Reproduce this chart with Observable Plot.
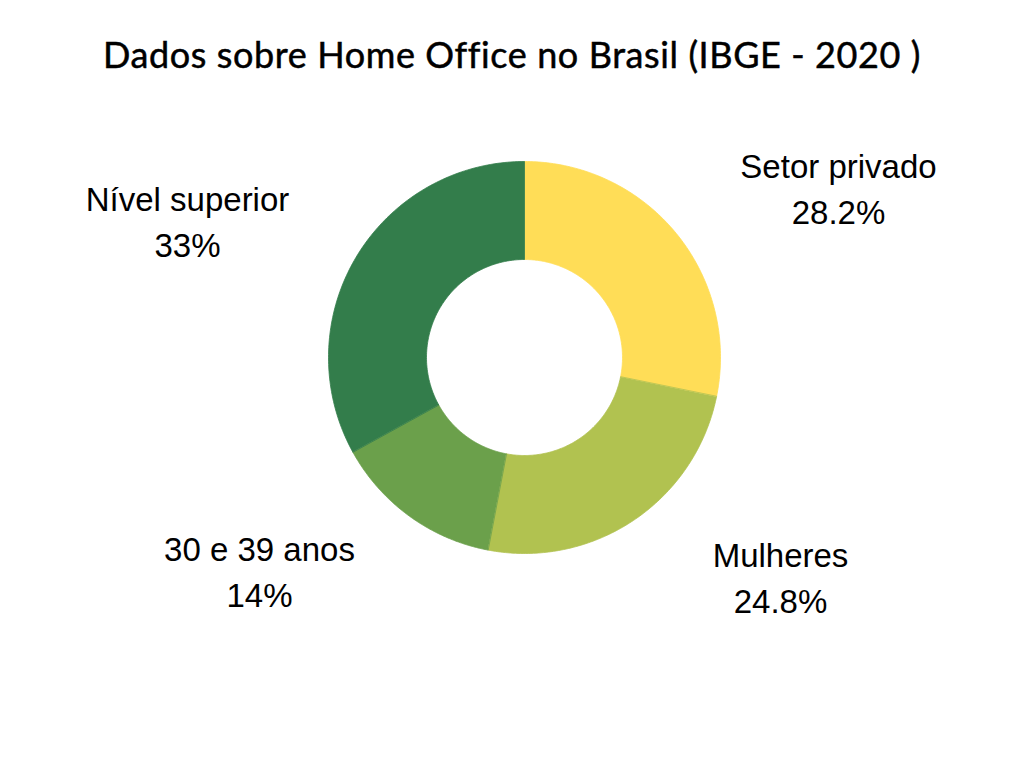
<!DOCTYPE html>
<html>
<head>
<meta charset="utf-8">
<script src="https://cdn.jsdelivr.net/npm/d3@7"></script>
<script src="https://cdn.jsdelivr.net/npm/@observablehq/plot@0.6"></script>
<style>
  html, body { margin: 0; padding: 0; background: #fff; }
  #wrap { width: 1024px; height: 768px; position: relative; overflow: hidden; }
  #title { height: 100px; line-height: 108px; text-align: center; font-family: "Lato", "Open Sans", sans-serif; font-size: 36px; font-weight: 400; color: #000; letter-spacing: 0.6px; -webkit-text-stroke: 0.5px #000; }
  #chart svg { display: block; }
</style>
</head>
<body>
<div id="wrap">
  <div id="title">Dados sobre Home Office no Brasil (IBGE - 2020 )</div>
  <div id="chart"></div>
</div>
<script>
// Data
const categories = ["Setor privado", "Mulheres", "30 e 39 anos", "Nível superior"];
const values = [28.2, 24.8, 14, 33];
const valueLabels = ["28.2%", "24.8%", "14%", "33%"];
const colors = ["#FFDD57", "#B1C250", "#6BA04B", "#337D4B"];

// Layout (pixel units relative to donut center)
const W = 1024, H = 668, CX = 524, CY = 257;
const R_OUT = 196, R_IN = 98;
const labelAnchors = [[314, -171], [256, 218], [-265, 212], [-337, -138]];

const arcs = d3.pie().sort(null).startAngle(0).endAngle(2 * Math.PI)(values);

const polys = [];
arcs.forEach((a, i) => {
  const n = 120;
  const pts = [];
  for (let k = 0; k <= n; k++) {
    const t = a.startAngle + (a.endAngle - a.startAngle) * k / n;
    pts.push([R_OUT * Math.sin(t), -R_OUT * Math.cos(t)]);
  }
  for (let k = n; k >= 0; k--) {
    const t = a.startAngle + (a.endAngle - a.startAngle) * k / n;
    pts.push([R_IN * Math.sin(t), -R_IN * Math.cos(t)]);
  }
  pts.forEach(([x, y], j) => polys.push({name: categories[i], x, y, order: j}));
});

const labels = categories.map((c, i) => ({
  text: c + "\n" + valueLabels[i],
  x: labelAnchors[i][0],
  y: labelAnchors[i][1]
}));

const plot = Plot.plot({
  width: W,
  height: H,
  margin: 0,
  x: {domain: [-CX, W - CX], range: [0, W], axis: null},
  y: {domain: [-CY, H - CY], range: [0, H], axis: null},
  color: {domain: categories, range: colors},
  marks: [
    Plot.line(polys, {x: "x", y: "y", z: "name", fill: "name", stroke: "name", strokeWidth: 0.8, curve: "linear-closed"}),
    Plot.text(labels, {x: "x", y: "y", text: "text", fontSize: 33, lineHeight: 1.394, fill: "#000", fontFamily: "Liberation Sans, Arial, sans-serif"})
  ],
  style: {background: "#fff"}
});
document.getElementById("chart").appendChild(plot);
</script>
</body>
</html>
